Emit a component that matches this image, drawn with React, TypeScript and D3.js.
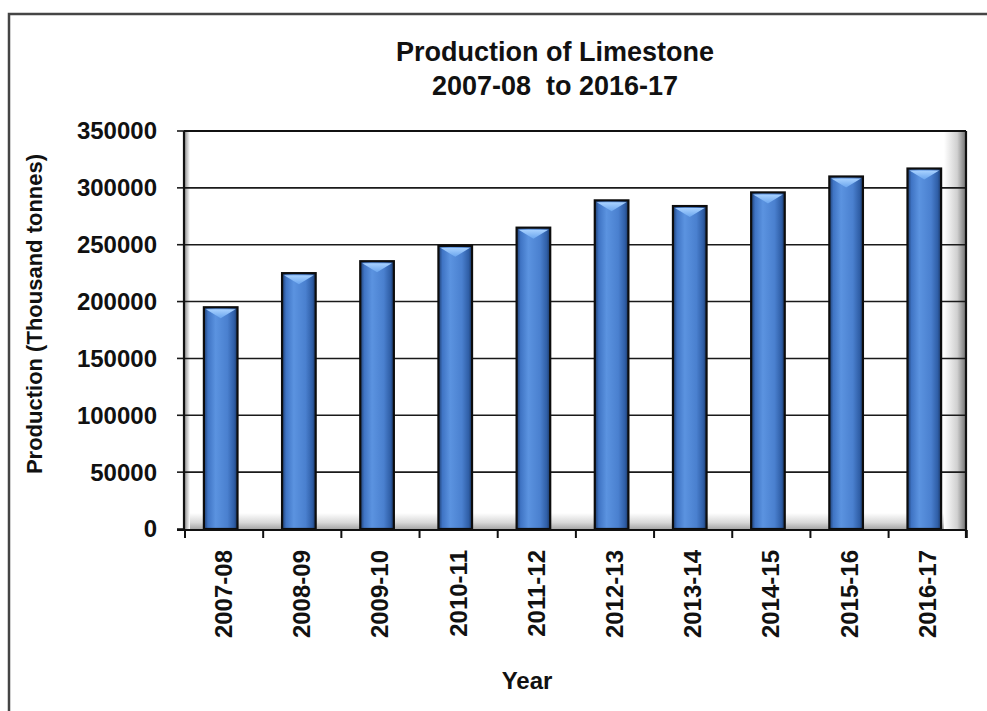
import React from 'react';
import * as d3 from 'd3';

const years = ['2007-08', '2008-09', '2009-10', '2010-11', '2011-12', '2012-13', '2013-14', '2014-15', '2015-16', '2016-17'];
const production = [195000, 225000, 235500, 249000, 265000, 289000, 284000, 296000, 310000, 317000];
const yTicks = [0, 50000, 100000, 150000, 200000, 250000, 300000, 350000];
const titleLines = ['Production of Limestone', '2007-08  to 2016-17'];

const W = 987;
const H = 711;
const left = 184;
const right = 966;
const top = 131;
const bottom = 529;
const font = '"Liberation Sans", Arial, sans-serif';

export default function App() {
  const x = d3.scaleBand().domain(years).range([left + 1, right]).paddingInner(0.57).paddingOuter(0.28);
  const y = d3.scaleLinear().domain([0, 350000]).range([bottom, top]);
  const step = x.step();
  const bw = x.bandwidth();

  return (
    <svg width={W} height={H} style={{ position: 'absolute', left: 0, top: 0 }}>
      <defs>
        <linearGradient id="barGrad" x1="0" x2="1" y1="0" y2="0">
          <stop offset="0" stopColor="#1d3c6e" />
          <stop offset="0.12" stopColor="#3f74c4" />
          <stop offset="0.35" stopColor="#5b93e0" />
          <stop offset="0.7" stopColor="#4a80cf" />
          <stop offset="0.9" stopColor="#2f5ea6" />
          <stop offset="1" stopColor="#1a3663" />
        </linearGradient>
        <linearGradient id="capGrad" x1="0" x2="0" y1="0" y2="1">
          <stop offset="0" stopColor="#a9d2ff" />
          <stop offset="1" stopColor="#6aa5ee" />
        </linearGradient>
        <linearGradient id="floorGrad" x1="0" x2="0" y1="0" y2="1">
          <stop offset="0" stopColor="#ffffff" />
          <stop offset="0.6" stopColor="#d8d8d8" />
          <stop offset="1" stopColor="#a8a8a8" />
        </linearGradient>
        <linearGradient id="wallGrad" x1="0" x2="1" y1="0" y2="0">
          <stop offset="0" stopColor="#ffffff" />
          <stop offset="0.6" stopColor="#d0d0d0" />
          <stop offset="1" stopColor="#707070" />
        </linearGradient>
        <linearGradient id="leftWall" x1="0" x2="1" y1="0" y2="0">
          <stop offset="0" stopColor="#9a9a9a" />
          <stop offset="1" stopColor="#ffffff" />
        </linearGradient>
      </defs>

      <rect x={0} y={0} width={W} height={H} fill="#fff" />
      <rect x={9} y={14} width={W + 20} height={H + 20} fill="none" stroke="#454545" strokeWidth={2.5} />

      {titleLines.map((t, i) => (
        <text key={t} x={555} y={61 + i * 34} textAnchor="middle" fontFamily={font} fontWeight="bold" fontSize={27} fill="#111" style={{ whiteSpace: 'pre' }}>
          {t}
        </text>
      ))}

      {/* walls and floor */}
      <rect x={left} y={bottom - 16} width={right - left} height={16} fill="url(#floorGrad)" />
      <rect x={right - 22} y={top} width={22} height={bottom - top} fill="url(#wallGrad)" />
      <rect x={left + 1} y={top} width={5} height={bottom - top} fill="url(#leftWall)" />

      {yTicks.map(v => (
        <g key={v}>
          {v > 0 && <line x1={left} x2={right} y1={y(v)} y2={y(v)} stroke="#1a1a1a" strokeWidth={1.6} />}
          <line x1={left - 7} x2={left} y1={y(v)} y2={y(v)} stroke="#1a1a1a" strokeWidth={1.6} />
          <text x={157} y={y(v)} dy="0.35em" textAnchor="end" fontFamily={font} fontWeight="bold" fontSize={24} fill="#111">
            {v}
          </text>
        </g>
      ))}

      {years.map((yr, i) => {
        const bx = (x(yr) as number) - 3;
        const by = y(production[i]);
        const bh = bottom - by;
        return (
          <g key={yr}>
            <rect x={bx} y={by} width={bw} height={bh} fill="url(#barGrad)" stroke="#0d0d0d" strokeWidth={2.2} />
            <path
              d={`M${bx + 2},${by + 2} L${bx + bw - 2},${by + 2} L${bx + bw / 2},${by + 11} Z`}
              fill="url(#capGrad)"
            />
          </g>
        );
      })}

      <line x1={left} x2={left} y1={top} y2={bottom + 1} stroke="#111" strokeWidth={2.2} />
      <line x1={right} x2={right} y1={top} y2={bottom + 9} stroke="#111" strokeWidth={2.2} />
      <line x1={left} x2={right} y1={top} y2={top} stroke="#111" strokeWidth={1.8} />
      <line x1={left - 7} x2={right} y1={bottom + 1} y2={bottom + 1} stroke="#111" strokeWidth={2} />

      {d3.range(years.length + 1).map(i => {
        const tx = left + 1 + i * step;
        return <line key={i} x1={tx} x2={tx} y1={bottom + 1} y2={bottom + 9} stroke="#111" strokeWidth={2} />;
      })}

      {years.map(yr => {
        const cx = (x(yr) as number) + bw / 2;
        return (
          <text
            key={yr}
            transform={`translate(${cx},550) rotate(-90)`}
            dy="0.35em"
            textAnchor="end"
            fontFamily={font}
            fontWeight="bold"
            fontSize={24}
            fill="#111"
          >
            {yr}
          </text>
        );
      })}

      <text transform="translate(34,314) rotate(-90)" dy="0.35em" textAnchor="middle" fontFamily={font} fontWeight="bold" fontSize={22} fill="#111">
        Production (Thousand tonnes)
      </text>
      <text x={527} y={689} textAnchor="middle" fontFamily={font} fontWeight="bold" fontSize={24} fill="#111">
        Year
      </text>
    </svg>
  );
}
